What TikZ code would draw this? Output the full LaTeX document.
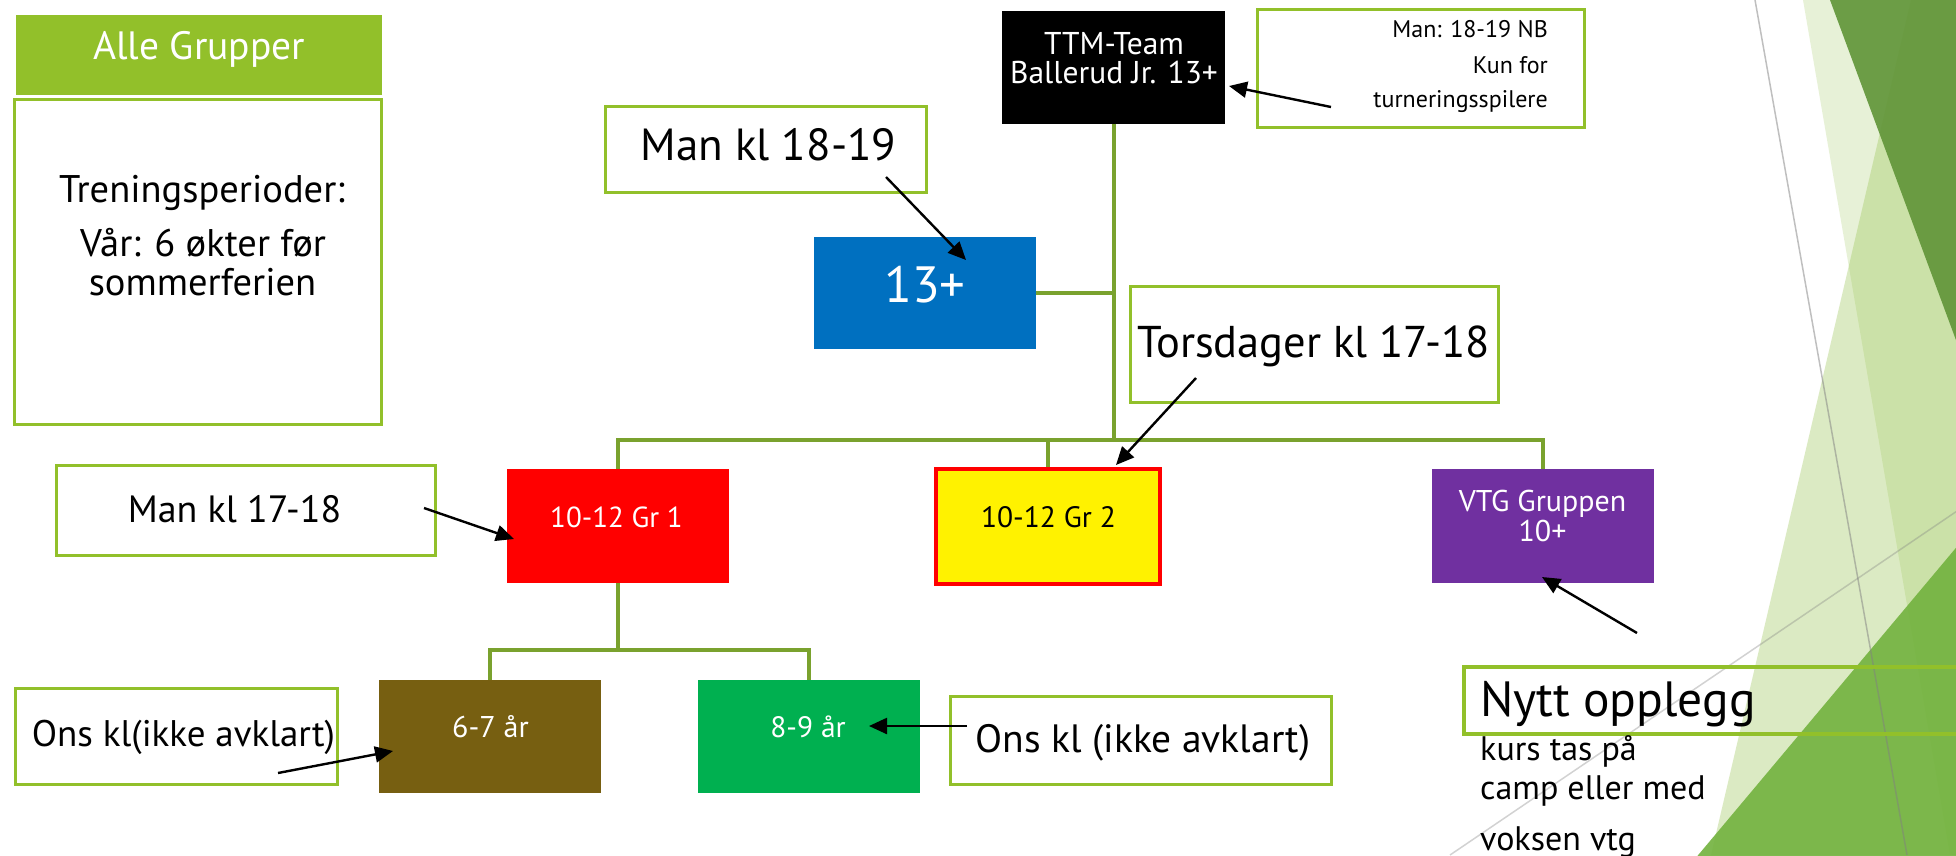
\documentclass[tikz,border=0pt]{standalone}
\usepackage{fontspec}
\setmainfont{PT Sans}
\usetikzlibrary{arrows.meta,calc}
\definecolor{lgreen}{HTML}{92C02A}
\definecolor{cgreen}{HTML}{7AA22E}
\definecolor{bgreen}{HTML}{92C045}
\definecolor{dkgreen}{HTML}{62963A}
\definecolor{brgreen}{HTML}{72B23E}
\definecolor{blue13}{HTML}{0070C0}
\definecolor{purp}{HTML}{7030A0}
\definecolor{brownbox}{HTML}{775F11}
\definecolor{greenbox}{HTML}{00B050}
\newcommand{\fsz}[1]{\fontsize{#1}{#1}\selectfont}
\tikzset{
  tbox/.style={draw=lgreen, line width=3pt, fill=white, inner sep=0pt},
  cbox/.style={draw=none, inner sep=0pt},
  conn/.style={draw=cgreen, line width=4pt},
  arr/.style={draw=black, line width=2.4pt, -{Triangle[length=18pt,width=16pt]}},
  txt/.style={inner sep=0pt, anchor=base},
}
\begin{document}
\begin{tikzpicture}[x=1pt,y=-1pt]
\useasboundingbox (0,0) rectangle (1956,855);
\fill[white] (0,0) rectangle (1956,855);
% background facets
\begin{scope}
\clip (0,0) rectangle (1956,855);
\fill[bgreen, opacity=0.21] (1803,0) -- (1960,0) -- (1960,855) -- (1950,855) -- cycle;
\fill[bgreen, opacity=0.32] (1911,0) -- (1960,0) -- (1960,855) -- (1711,855) -- cycle;
\fill[dkgreen, opacity=0.92] (1830,0) -- (1960,0) -- (1960,351) -- cycle;
\fill[brgreen, opacity=0.9] (1960,543) -- (1960,860) -- (1694,860) -- cycle;
\draw[gray, opacity=0.5, line width=1.5pt] (1755,0) -- (1907,855);
\draw[gray, opacity=0.35, line width=1.5pt] (1450,855) -- (1960,509);
\end{scope}

% boxes
\node[cbox, fill=lgreen, minimum width=366pt, minimum height=80pt] (hdr) at (199,55) {};
\node[tbox, minimum width=367pt, minimum height=325pt] (tren) at (198,262) {};
\node[cbox, fill=black, minimum width=223pt, minimum height=113pt] (ttm) at (1113.5,67.5) {};
\node[tbox, minimum width=327pt, minimum height=118pt] (note) at (1421,68.5) {};
\node[tbox, minimum width=321pt, minimum height=86pt] (m1819) at (766,149.5) {};
\node[cbox, fill=blue13, minimum width=222pt, minimum height=112pt] (b13) at (925,293) {};
\node[tbox, minimum width=368pt, minimum height=116pt] (tors) at (1314.5,344.5) {};
\node[tbox, minimum width=379pt, minimum height=90pt] (m1718) at (246,510.5) {};
\node[cbox, fill=red, minimum width=222pt, minimum height=114pt] (red) at (618,526) {};
\node[cbox, fill=yellow, draw=red, line width=3.5pt, minimum width=224pt, minimum height=115pt] (yel) at (1048,526.5) {};
\node[cbox, fill=purp, minimum width=222pt, minimum height=114pt] (vtg) at (1543,526) {};
\node[tbox, minimum width=322pt, minimum height=96pt] (ons1) at (176.5,736.5) {};
\node[cbox, fill=brownbox, minimum width=222pt, minimum height=113pt] (brn) at (490,736.5) {};
\node[cbox, fill=greenbox, minimum width=222pt, minimum height=113pt] (grn) at (809,736.5) {};
\node[tbox, minimum width=381pt, minimum height=88pt] (ons2) at (1141,740.5) {};
\begin{scope}
\clip (0,0) rectangle (1956,855);
\node[tbox, fill=none, line width=3.5pt, minimum width=560pt, minimum height=67pt] (nytt) at (1744,700.5) {};
\end{scope}

% connectors
\coordinate (j1) at (1113.5,440);
\coordinate (j2) at (618,650);
\draw[conn] (ttm.south) -- (j1);
\draw[conn] (b13.east) -- (b13.east -| j1);
\draw[conn] (red.north) |- (j1) -| (vtg.north);
\draw[conn] (yel.north) -- (yel.north |- j1);
\draw[conn] (red.south) -- (j2);
\draw[conn] (brn.north) |- (j2) -| (grn.north);

% arrows
\coordinate (a1s) at (1331,107); \coordinate (a1e) at (1229,86);
\coordinate (a2s) at (886,177);  \coordinate (a2e) at (966,260);
\coordinate (a3s) at (1196,378); \coordinate (a3e) at (1116,465);
\coordinate (a4s) at (424,508);  \coordinate (a4e) at (514,539);
\coordinate (a5s) at (278,773);  \coordinate (a5e) at (393,751);
\coordinate (a6s) at (967,726);  \coordinate (a6e) at (869,726);
\coordinate (a7s) at (1637,633); \coordinate (a7e) at (1542,577);
\draw[arr] (a1s) -- (a1e);
\draw[arr] (a2s) -- (a2e);
\draw[arr] (a3s) -- (a3e);
\draw[arr] (a4s) -- (a4e);
\draw[arr] (a5s) -- (a5e);
\draw[arr] (a6s) -- (a6e);
\draw[arr] (a7s) -- (a7e);

% texts
\node[txt, text=white, font=\fsz{39.5}] (thdr) at (199,59) {Alle Grupper};
\node[txt, font=\fsz{38.5}] (tr1) at (202,202) {Treningsperioder:};
\node[txt, font=\fsz{38.5}] (tr2) at (203,256) {Vår: 6 økter før};
\node[txt, font=\fsz{38.5}] (tr3) at (202.5,295) {sommerferien};
\node[txt, text=white, font=\fsz{31.5}] (tt1) at (1114,54) {TTM-Team};
\node[txt, text=white, font=\fsz{31.5}] (tt2) at (1114,83) {Ballerud Jr. 13+};
\node[txt, anchor=base east, font=\fsz{24}] (nt1) at (1548,37) {Man: 18-19 NB};
\node[txt, anchor=base east, font=\fsz{24}] (nt2) at (1548,73) {Kun for};
\node[txt, anchor=base east, font=\fsz{24}] (nt3) at (1548,107) {turneringsspilere};
\node[txt, font=\fsz{45}] (tm1819) at (768.5,160) {Man kl 18-19};
\node[txt, text=white, font=\fsz{51}] (t13) at (925,302) {13+};
\node[txt, font=\fsz{44.5}] (ttors) at (1313.5,357) {Torsdager kl 17-18};
\node[txt, font=\fsz{38}] (tm1718) at (234.5,522) {Man kl 17-18};
\node[txt, text=white, font=\fsz{29}] (tred) at (616.5,527) {10-12 Gr 1};
\node[txt, font=\fsz{29.5}] (tyel) at (1048.5,527) {10-12 Gr 2};
\node[txt, text=white, font=\fsz{30}] (tv1) at (1542.5,511) {VTG Gruppen};
\node[txt, text=white, font=\fsz{30}] (tv2) at (1542.5,541) {10+};
\node[txt, font=\fsz{37}] (tons1) at (183.5,746) {Ons kl(ikke avklart)};
\node[txt, text=white, font=\fsz{30}] (tbrn) at (490.5,737) {6-7 år};
\node[txt, text=white, font=\fsz{29.5}] (tgrn) at (808,737) {8-9 år};
\node[txt, font=\fsz{39.5}] (tons2) at (1143,752) {Ons kl (ikke avklart)};
\node[txt, anchor=base west, font=\fsz{49.5}] (tny) at (1480,716) {Nytt opplegg};
\node[txt, anchor=base west, font=\fsz{34}] (tk1) at (1480,760) {kurs tas på};
\node[txt, anchor=base west, font=\fsz{34}] (tk2) at (1480,799) {camp eller med};
\node[txt, anchor=base west, font=\fsz{34}] (tk3) at (1480,850) {voksen vtg};
\end{tikzpicture}
\end{document}
